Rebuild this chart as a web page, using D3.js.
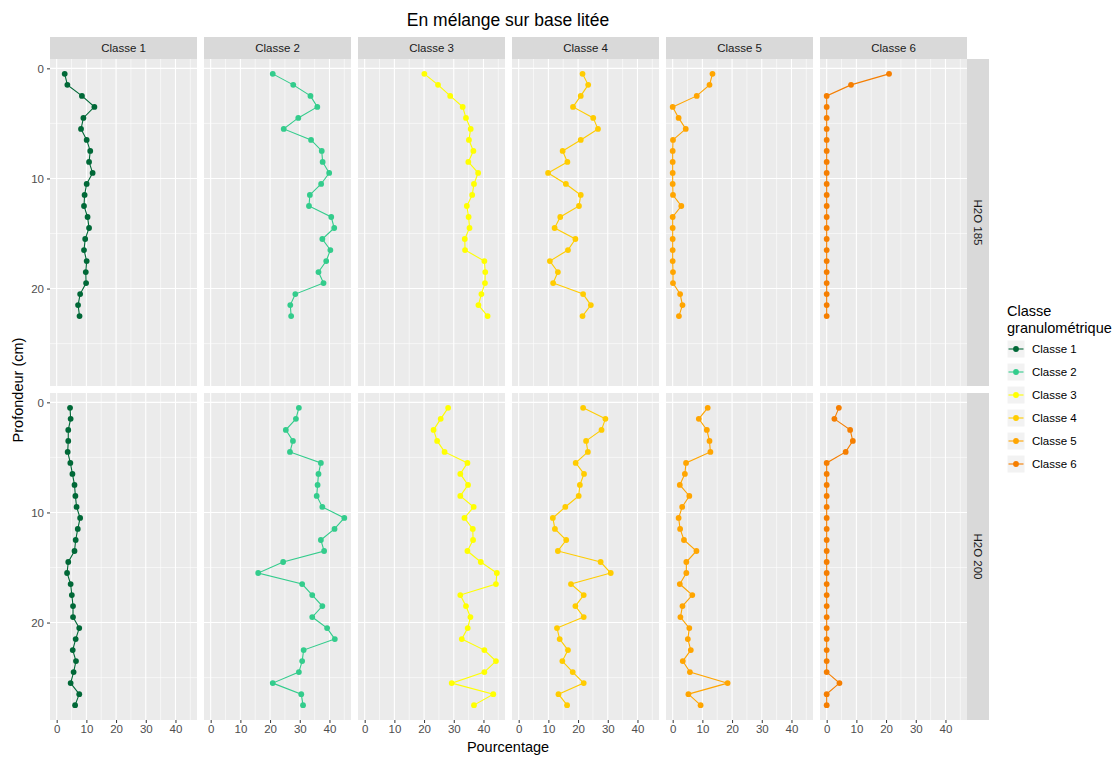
<!DOCTYPE html>
<html><head><meta charset="utf-8">
<script src="https://cdn.jsdelivr.net/npm/d3@7"></script>
<style>body{margin:0;background:#fff}svg{display:block}text{font-family:"Liberation Sans",Arial,sans-serif}</style>
</head><body><svg id="c" width="1115" height="757"></svg>
<script>
const classes = ["Classe 1","Classe 2","Classe 3","Classe 4","Classe 5","Classe 6"];
const rowsLab = ["H2O 185","H2O 200"];
const colors = ["#006837","#33CC8C","#FFFF00","#FFCC00","#FFA500","#F57E00"];
const depth185 = [0.5,1.5,2.5,3.5,4.5,5.5,6.5,7.5,8.5,9.5,10.5,11.5,12.5,13.5,14.5,15.5,16.5,17.5,18.5,19.5,20.5,21.5,22.5];
const depth200 = [0.5,1.5,2.5,3.5,4.5,5.5,6.5,7.5,8.5,9.5,10.5,11.5,12.5,13.5,14.5,15.5,16.5,17.5,18.5,19.5,20.5,21.5,22.5,23.5,24.5,25.5,26.5,27.5];
const xTicks = [0,10,20,30,40];
const yTicks = [0,10,20];

// H2O 185
const c1_185 = [2.7,3.6,8.5,12.7,9.0,8.2,10.1,11.3,10.9,12.1,10.1,9.4,9.2,10.4,10.9,9.6,9.2,10.1,9.8,9.9,7.9,7.2,7.7];
const c2_185 = [20.9,27.8,33.6,35.9,29.5,24.6,33.8,37.4,37.7,39.9,37.2,33.4,33.1,40.6,41.6,37.6,40.3,38.9,36.3,38.0,28.5,26.8,27.1];
const c3_185 = [20.1,24.7,28.8,33.0,34.1,35.7,35.1,36.6,34.9,38.2,36.8,36.2,34.4,35.0,35.3,33.7,33.8,40.3,40.6,40.5,39.3,38.3,41.4];
const c4_185 = [21.5,23.4,20.9,18.3,25.1,26.7,20.9,14.8,16.4,9.9,15.9,20.9,20.3,14.0,12.1,19.1,16.6,10.5,13.2,11.6,21.7,24.3,21.5];
const c5_185 = [13.4,12.4,8.1,0.0,2.0,4.4,0.1,0.0,0.0,0.0,0.0,0.1,2.9,0.0,0.0,0.0,0.0,0.0,0.1,0.1,2.5,3.3,2.1];
const c6_185 = [21.0,8.2,0,0,0,0,0,0,0,0,0,0,0,0,0,0,0,0,0,0,0,0,0];
// H2O 200
const c1_200 = [4.5,4.7,3.9,3.9,3.7,4.6,5.3,6.0,6.3,6.7,7.9,7.1,6.4,6.0,3.9,3.5,4.7,5.1,5.5,5.5,7.6,6.4,5.4,6.5,5.7,4.7,7.6,6.2];
const c2_200 = [29.7,28.7,25.3,27.7,26.7,37.1,36.3,36.0,35.7,37.6,45.0,41.7,37.1,38.2,24.4,16.0,30.8,34.2,37.6,34.2,39.2,41.8,31.3,30.8,29.7,20.9,30.5,31.1];
const c3_200 = [28.1,25.6,23.2,24.4,26.9,34.6,32.2,34.8,32.2,36.7,33.6,36.4,36.5,34.6,39.1,44.5,44.2,32.2,34.1,35.6,34.7,32.7,40.3,44.2,40.3,29.3,43.3,36.8];
const c4_200 = [21.7,29.2,27.9,22.7,23.3,19.2,22.0,20.6,20.2,15.7,11.5,12.2,16.0,13.2,27.6,31.0,17.6,21.9,19.1,21.9,12.9,13.8,16.6,14.7,18.2,21.9,13.4,16.3];
const c5_200 = [11.8,8.8,11.5,12.4,12.7,4.5,4.1,2.4,5.6,3.2,2.0,2.5,3.8,8.0,4.6,4.6,2.4,6.6,3.3,2.6,5.6,5.1,6.1,3.4,5.8,18.5,5.3,9.4];
const c6_200 = [4.1,2.6,7.9,8.8,6.4,0,0,0,0,0,0,0,0,0,0,0,0,0,0,0,0,0,0,0,0,4.3,0,0];

const vals = [[c1_185,c2_185,c3_185,c4_185,c5_185,c6_185],[c1_200,c2_200,c3_200,c4_200,c5_200,c6_200]];
const depths = [depth185, depth200];

const svg = d3.select("#c");
const panelW = 147, gapX = 7, left0 = 50;
const panelTops = [59, 393], panelH = 327;
const stripTop = 37, stripH = 22;

const allX = vals.flat(2), allY = depths.flat();
const xmin = d3.min(allX), xmax = d3.max(allX), xr = xmax - xmin;
const ymin = d3.min(allY), ymax = d3.max(allY), yr = ymax - ymin;

svg.append("text").attr("x", 508).attr("y", 26).attr("text-anchor","middle")
  .attr("font-size", 17.5).attr("fill","#000").text("En mélange sur base litée");

classes.forEach((cl, ci) => {
  const px = left0 + ci*(panelW+gapX);
  const x = d3.scaleLinear().domain([xmin - 0.05*xr, xmax + 0.05*xr]).range([px, px+panelW]);
  svg.append("rect").attr("x", px).attr("y", stripTop).attr("width", panelW).attr("height", stripH).attr("fill","#D9D9D9");
  svg.append("text").attr("x", px+panelW/2).attr("y", stripTop+stripH/2+4).attr("text-anchor","middle")
    .attr("font-size", 11.5).attr("fill","#1A1A1A").text(cl);
  rowsLab.forEach((rl, ri) => {
    const py = panelTops[ri];
    const y = d3.scaleLinear().domain([ymin - 0.05*yr, ymax + 0.05*yr]).range([py, py+panelH]);
    const g = svg.append("g");
    g.append("rect").attr("x", px).attr("y", py).attr("width", panelW).attr("height", panelH).attr("fill","#EBEBEB");
    const xMinor = [5,15,25,35,45];
    const yMinor = [5,15,25];
    g.selectAll(null).data(xMinor).join("line").attr("x1", d=>x(d)).attr("x2", d=>x(d)).attr("y1", py).attr("y2", py+panelH)
      .attr("stroke","#fff").attr("stroke-width",0.55);
    g.selectAll(null).data(yMinor).join("line").attr("y1", d=>y(d)).attr("y2", d=>y(d)).attr("x1", px).attr("x2", px+panelW)
      .attr("stroke","#fff").attr("stroke-width",0.55);
    g.selectAll(null).data(xTicks).join("line").attr("x1", d=>x(d)).attr("x2", d=>x(d)).attr("y1", py).attr("y2", py+panelH)
      .attr("stroke","#fff").attr("stroke-width",1.1);
    g.selectAll(null).data(yTicks).join("line").attr("y1", d=>y(d)).attr("y2", d=>y(d)).attr("x1", px).attr("x2", px+panelW)
      .attr("stroke","#fff").attr("stroke-width",1.1);
    const data = depths[ri].map((d,i)=>({d, v: vals[ri][ci][i]}));
    g.append("path").datum(data).attr("fill","none").attr("stroke", colors[ci]).attr("stroke-width",1.1)
      .attr("d", d3.line().x(p=>x(p.v)).y(p=>y(p.d)));
    g.selectAll(null).data(data).join("circle").attr("cx", p=>x(p.v)).attr("cy", p=>y(p.d)).attr("r", 2.9).attr("fill", colors[ci]);
    if (ci === 0) {
      const ya = svg.append("g").attr("transform", `translate(${px},0)`)
        .call(d3.axisLeft(y).tickValues(yTicks).tickSize(3).tickPadding(3));
      ya.select(".domain").remove();
      ya.selectAll("line").attr("stroke","#333").attr("stroke-width",1);
      ya.selectAll("text").attr("fill","#4D4D4D").attr("font-size",11.5).attr("font-family","Liberation Sans, Arial, sans-serif");
    }
    if (ri === 1) {
      const xa = svg.append("g").attr("transform", `translate(0,${py+panelH})`)
        .call(d3.axisBottom(x).tickValues(xTicks).tickSize(3).tickPadding(2));
      xa.select(".domain").remove();
      xa.selectAll("line").attr("stroke","#333").attr("stroke-width",1);
      xa.selectAll("text").attr("fill","#4D4D4D").attr("font-size",11.5).attr("font-family","Liberation Sans, Arial, sans-serif");
    }
    if (ci === classes.length-1) {
      const sx = px + panelW;
      svg.append("rect").attr("x", sx).attr("y", py).attr("width", stripH).attr("height", panelH).attr("fill","#D9D9D9");
      svg.append("text").attr("transform", `translate(${sx+stripH/2-4},${py+panelH/2}) rotate(90)`)
        .attr("text-anchor","middle").attr("font-size",11.5).attr("fill","#1A1A1A").text(rl);
    }
  });
});

svg.append("text").attr("x", 508).attr("y", 752).attr("text-anchor","middle").attr("font-size",14.5).attr("fill","#000").text("Pourcentage");
svg.append("text").attr("transform","translate(23,390) rotate(-90)").attr("text-anchor","middle").attr("font-size",14.5).attr("fill","#000").text("Profondeur (cm)");

const lg = svg.append("g").attr("transform","translate(1007,0)");
lg.append("text").attr("x",0).attr("y",316).attr("font-size",14.5).attr("fill","#000").text("Classe");
lg.append("text").attr("x",0).attr("y",333).attr("font-size",14.5).attr("fill","#000").text("granulométrique");
classes.forEach((cl,i)=>{
  const cy = 349 + i*23;
  lg.append("rect").attr("x",0).attr("y",cy-9).attr("width",18).attr("height",18).attr("fill","#F2F2F2").attr("stroke","#fff");
  lg.append("line").attr("x1",1.5).attr("x2",16.5).attr("y1",cy).attr("y2",cy).attr("stroke",colors[i]).attr("stroke-width",1.1);
  lg.append("circle").attr("cx",9).attr("cy",cy).attr("r",2.9).attr("fill",colors[i]);
  lg.append("text").attr("x",25).attr("y",cy+4).attr("font-size",11.5).attr("fill","#000").text(cl);
});
</script></body></html>
